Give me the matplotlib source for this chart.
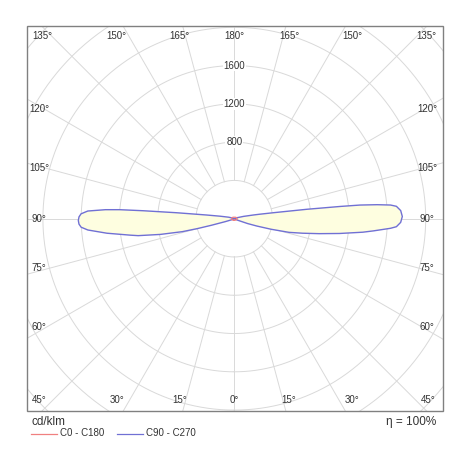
import numpy as np
import matplotlib
matplotlib.use("Agg")
import matplotlib.pyplot as plt
from matplotlib.patches import Rectangle

plt.rcParams['font.family'] = ['Liberation Sans', 'DejaVu Sans']

# ---- data (cd/klm) ----
gamma_c90 = [0, 60, 66, 70, 72, 74, 76, 78, 80, 82, 84, 85, 86.48, 87.17, 88.73, 90.75,
             92.79, 94.37, 95.0, 95.6, 96.2, 96.6, 97.4, 98.7, 100, 101, 104, 110, 120, 180]
int_c90 = [0, 0, 40, 150, 250, 400, 590, 730, 900, 1110, 1350, 1460, 1635, 1696, 1739, 1756,
           1741, 1699, 1639, 1500, 1321, 1112, 763, 413, 270, 203, 100, 30, 0, 0]
gamma_c270 = [0, 60, 68, 72, 74, 75, 76, 78, 80, 81, 83.5, 85.59, 86.82, 88.0, 89.34, 90.66,
              91.83, 93.0, 94, 94.5, 95, 95.9, 97.6, 100, 105, 110, 120, 180]
int_c270 = [0, 0, 30, 100, 250, 400, 560, 790, 1020, 1100, 1340, 1535, 1603, 1624, 1630, 1623,
            1602, 1533, 1350, 1200, 955, 605, 291, 150, 60, 20, 0, 0]
gamma_c0 = [0, 30, 60, 90, 120, 150, 180]
int_c0 = [15, 18, 25, 30, 25, 18, 15]
int_c180 = [15, 18, 25, 30, 25, 18, 15]

ring_values = [400, 800, 1200, 1600, 2000, 2400, 2800]
ring_labels = [800, 1200, 1600]
ray_angles = list(range(0, 360, 15))

legend_names = ["C0 - C180", "C90 - C270"]
unit_text = "cd/klm"
eta_text = "\u03b7 = 100%"

# ---- layout ----
W = H = 470
fig = plt.figure(figsize=(W / 100, H / 100), dpi=100)
cx, cy = 234.3, 218.7          # centre in image px
px_per_cd = 1 / 10.45
RMAX = 3000
rpx = RMAX * px_per_cd
ax = fig.add_axes([(cx - rpx) / W, (H - cy - rpx) / H, 2 * rpx / W, 2 * rpx / H],
                  projection='polar')
ax.set_theta_zero_location('S')
ax.set_theta_direction(1)
ax.set_ylim(0, RMAX)
ax.axis('off')

fl, fr, ft, fb = 27, 443, 26, 411
clip = Rectangle((fl / W, 1 - fb / H), (fr - fl) / W, (fb - ft) / H,
                 transform=fig.transFigure, facecolor='none')

def clipit(arts):
    for a in arts:
        a.set_clip_path(clip)

grid_col = '#d9d9d9'
tt = np.linspace(0, 2 * np.pi, 721)
for rv in ring_values:
    clipit(ax.plot(tt, np.full_like(tt, rv), color=grid_col, lw=0.7, zorder=1))
for a in ray_angles:
    clipit(ax.plot([np.radians(a)] * 2, [ring_values[0], RMAX], color=grid_col, lw=0.7, zorder=1))

# C90 - C270 curve (right = C90, left = C270)
th = np.concatenate([np.radians(gamma_c90), -np.radians(gamma_c270[::-1])])
rr = np.concatenate([int_c90, int_c270[::-1]])
clipit(ax.fill(th, rr, color='#fefee0', zorder=2, lw=0))
clipit(ax.plot(th, rr, color='#7070d4', lw=1.0, zorder=4))

# C0 - C180 curve
th0 = np.concatenate([np.radians(gamma_c0), -np.radians(gamma_c0[::-1])])
rr0 = np.concatenate([int_c0, int_c180[::-1]])
clipit(ax.plot(th0, rr0, color='#f08080', lw=0.9, zorder=5))

for rv in ring_labels:
    ax.text(np.pi, rv, str(rv), ha='center', va='center', fontsize=7, color='#333333',
            zorder=6, bbox=dict(facecolor='white', edgecolor='none', pad=0.6))

# frame
fig.add_artist(Rectangle((fl / W, 1 - fb / H), (fr - fl) / W, (fb - ft) / H,
                         transform=fig.transFigure, fill=False, edgecolor='#808080', lw=1.0))

def ftext(x, y, s, **kw):
    kw.setdefault('fontsize', 7)
    kw.setdefault('color', '#333333')
    kw.setdefault('ha', 'center')
    kw.setdefault('va', 'center')
    fig.text(x / W, 1 - y / H, s, **kw)

top_labels = [(42, 135), (116, 150), (179, 165), (234, 180), (289, 165), (352, 150), (426, 135)]
for x, v in top_labels:
    ftext(x, 36, f"{v}\u00b0")
bot_labels = [(39, 45), (117, 30), (180, 15), (234, 0), (289, 15), (352, 30), (428, 45)]
for x, v in bot_labels:
    ftext(x, 400, f"{v}\u00b0")
side_labels = [(109, 120), (168, 105), (218.7, 90), (268, 75), (327, 60)]
for y, v in side_labels:
    ftext(39, y, f"{v}\u00b0")
    ftext(427, y, f"{v}\u00b0")

ftext(32, 421.7, unit_text, fontsize=8.5, ha='left')
ftext(436, 421.7, eta_text, fontsize=8.5, ha='right')

# legend
fig.add_artist(plt.Line2D([31 / W, 57 / W], [1 - 433.5 / H] * 2, color='#f08080', lw=0.9,
                          transform=fig.transFigure))
ftext(60, 433.5, legend_names[0], ha='left')
fig.add_artist(plt.Line2D([117 / W, 143 / W], [1 - 433.5 / H] * 2, color='#7070d4', lw=0.9,
                          transform=fig.transFigure))
ftext(146, 433.5, legend_names[1], ha='left')

fig.savefig('out.png', dpi=100, facecolor='white')
